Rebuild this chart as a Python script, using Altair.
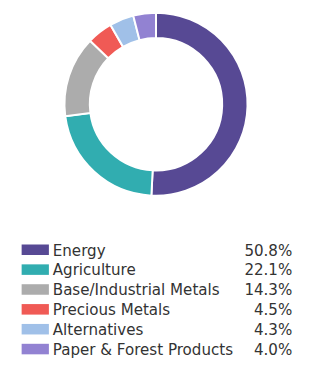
import altair as alt
import pandas as pd

categories = ["Energy", "Agriculture", "Base/Industrial Metals", "Precious Metals", "Alternatives", "Paper & Forest Products"]
values = [50.8, 22.1, 14.3, 4.5, 4.3, 4.0]
labels = ["50.8%", "22.1%", "14.3%", "4.5%", "4.3%", "4.0%"]
colors = ["#574994", "#31adb0", "#acacac", "#f05a55", "#a0c0e8", "#9282d2"]

df = pd.DataFrame({"cat": categories, "val": values, "label": labels, "idx": list(range(len(categories)))})

color_scale = alt.Scale(domain=categories, range=colors)
yscale = alt.Scale(domain=[0, 5], range=[243.5, 345.5])

base = alt.Chart(df)

donut = base.mark_arc(innerRadius=68, outerRadius=94, stroke="white", strokeWidth=2).encode(
    theta=alt.Theta("val:Q", stack=True),
    order=alt.Order("idx:Q"),
    color=alt.Color("cat:N", scale=color_scale, legend=None),
    x=alt.value(152),
    y=alt.value(94),
)

swatch = base.transform_calculate(top="datum.idx - 0.265", bot="datum.idx + 0.265").mark_rect().encode(
    x=alt.value(14), x2=alt.value(42),
    y=alt.Y("top:Q", scale=yscale, axis=None), y2="bot:Q",
    color=alt.Color("cat:N", scale=color_scale, legend=None),
)

names = base.mark_text(align="left", baseline="alphabetic", dy=6, font="DejaVu Sans", fontSize=15.5, color="#333333").encode(
    x=alt.value(46), y=alt.Y("idx:Q", scale=yscale, axis=None), text="cat:N"
)

pct = base.mark_text(align="right", baseline="alphabetic", dy=6, font="DejaVu Sans", fontSize=15.5, color="#333333").encode(
    x=alt.value(292), y=alt.Y("idx:Q", scale=yscale, axis=None), text="label:N"
)

chart = alt.layer(donut, swatch, names, pct).properties(
    width=303, height=355, padding=0, autosize=alt.AutoSizeParams(type="none")
).configure_view(stroke=None)

chart.save("out.html", embed_options={"renderer": "svg", "actions": False})
